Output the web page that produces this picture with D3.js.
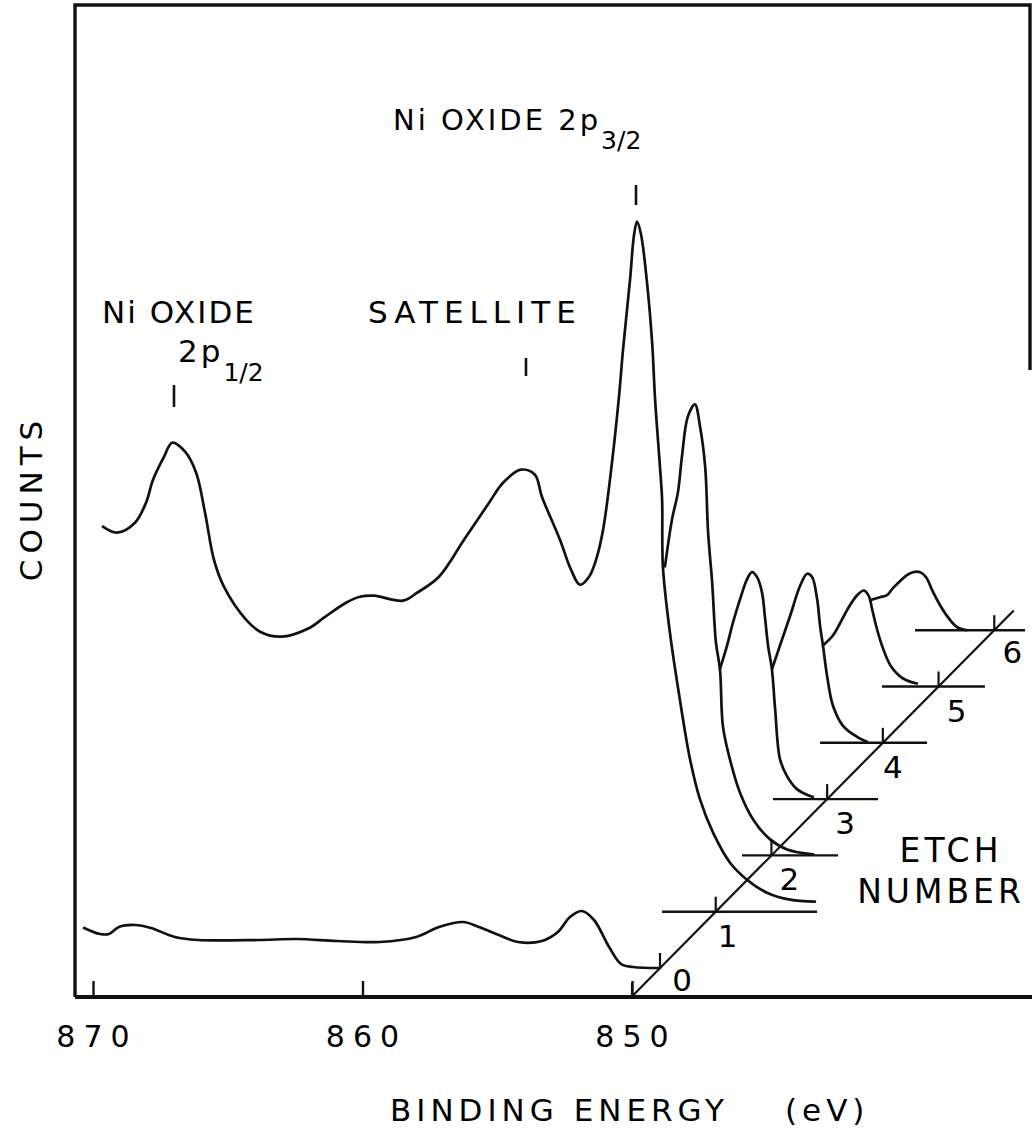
<!DOCTYPE html>
<html>
<head>
<meta charset="utf-8">
<script src="https://cdn.jsdelivr.net/npm/d3@7"></script>
<style>
  html, body { margin: 0; padding: 0; background: #fff; }
  svg { display: block; }
  text { font-family: "DejaVu Sans", "Liberation Sans", sans-serif; fill: #000; }
</style>
</head>
<body>
<svg id="chart" width="1032" height="1133"></svg>
<script>
// Ni 2p XPS spectra recorded after successive sputter-etch steps,
// stacked as a waterfall: each etch is shifted right (lower BE) and up.

const energyTicks = [870, 860, 850];
const etchNumbers = [0, 1, 2, 3, 4, 5, 6];

// [binding energy (eV), counts above the etch baseline]
const spectrumEtch0 = [
  [870.33, 40], [869.74, 34], [869.41, 34], [869.04, 41], [868.44, 43], [867.85, 40],
  [866.96, 31], [866.10, 28], [863.88, 28], [862.43, 29], [860.95, 27], [859.35, 26],
  [858.01, 31], [857.16, 41], [856.27, 46], [855.68, 41], [854.94, 33], [854.23, 26],
  [853.34, 27], [852.75, 36], [852.30, 51], [851.86, 57], [851.41, 48], [850.85, 21],
  [850.41, 4], [849.96, 1], [848.96, 0]
];
const spectrumEtch1 = [
  [871.70, 385], [871.18, 379], [870.51, 389], [870.10, 409], [869.84, 432], [869.43, 455],
  [869.13, 469], [868.65, 460], [868.24, 439], [867.91, 399], [867.58, 352], [867.21, 325],
  [866.39, 292], [865.87, 280], [865.09, 275], [864.02, 284], [863.50, 294], [862.68, 309],
  [862.16, 315], [861.64, 316], [860.56, 311], [860.04, 319], [859.23, 335], [858.30, 372],
  [857.37, 409], [856.85, 429], [856.19, 442], [855.67, 437], [855.41, 415], [854.74, 372],
  [854.33, 342], [854.00, 327], [853.66, 335], [853.40, 352], [853.14, 382], [852.81, 449],
  [852.55, 515], [852.40, 562], [852.14, 632], [851.99, 677], [851.88, 690], [851.73, 677],
  [851.51, 629], [851.32, 569], [851.21, 512], [851.03, 445], [850.95, 412], [850.92, 345],
  [850.66, 279], [850.29, 212], [849.91, 152], [849.54, 112], [849.06, 79], [848.43, 49],
  [847.80, 32], [847.06, 19], [846.20, 12], [845.28, 10]
];
const spectrumEtch2 = [
  [852.91, 289], [852.65, 336], [852.43, 363], [852.28, 399], [852.06, 439], [851.80, 451],
  [851.61, 429], [851.42, 389], [851.31, 323], [851.16, 273], [851.02, 213], [850.87, 186],
  [850.76, 129], [850.50, 96], [850.13, 63], [849.64, 36], [849.01, 16], [848.38, 6],
  [847.41, 1]
];
const spectrumEtch3 = [
  [852.94, 130], [852.68, 153], [852.45, 177], [852.19, 200], [851.93, 220], [851.75, 227],
  [851.56, 222], [851.38, 207], [851.26, 180], [851.15, 153], [851.01, 130], [850.89, 90],
  [850.71, 40], [850.45, 23], [850.08, 10], [849.49, 2]
];
const spectrumEtch4 = [
  [853.07, 74], [852.78, 97], [852.40, 127], [852.03, 157], [851.77, 169], [851.59, 166],
  [851.40, 144], [851.29, 117], [851.18, 97], [851.03, 67], [850.81, 37], [850.44, 17],
  [849.92, 6], [849.55, 1]
];
const spectrumEtch5 = [
  [853.25, 41], [852.88, 51], [852.62, 63], [852.32, 78], [851.99, 91], [851.73, 96],
  [851.54, 90], [851.43, 78], [851.28, 61], [851.06, 41], [850.72, 20], [850.28, 8],
  [849.76, 3]
];
const spectrumEtch6 = [
  [853.57, 30], [853.20, 33], [852.94, 35], [852.72, 42], [852.46, 49], [852.20, 55],
  [851.98, 58], [851.71, 58], [851.49, 53], [851.23, 38], [850.97, 25], [850.68, 13],
  [850.34, 3], [849.99, 0]
];
const spectra = [spectrumEtch0, spectrumEtch1, spectrumEtch2, spectrumEtch3,
                 spectrumEtch4, spectrumEtch5, spectrumEtch6];

// extent of the drawn baseline for each etch (eV, in that etch's own frame)
const baselineSpans = [null, [850.95, 845.2], [850.05, 846.49], [850.97, 847.07],
                       [851.29, 847.32], [851.06, 847.24], [851.90, 847.82]];
const etchMarkEV = 848.96;      // reference energy marked on every baseline
const etchShiftEV = 2.067;      // waterfall shift per etch step (eV)
const etchShiftCounts = 56.3;   // waterfall shift per etch step (counts)

const svg = d3.select("#chart");
const frame = { left: 75, right: 1030, top: 5, bottom: 997 };

const x = d3.scaleLinear().domain([870, 850]).range([93, 632]);
const y = d3.scaleLinear().domain([0, 968]).range([968, 0]);

// position of a point of etch k in chart space
const px = (e, k) => x(e - k * etchShiftEV);
const py = (c, k) => y(c + k * etchShiftCounts);

const ink = "#111";

// frame
svg.append("path")
  .attr("d", `M${frame.left},${frame.bottom} L${frame.left},${frame.top} L${frame.right},${frame.top} L${frame.right},370`)
  .attr("fill", "none").attr("stroke", ink).attr("stroke-width", 3.4);

// energy axis with inward ticks
const xAxis = d3.axisTop(x).tickValues(energyTicks).tickSize(16).tickFormat("");
const axisG = svg.append("g").attr("transform", `translate(0,${frame.bottom})`).call(xAxis);
axisG.select(".domain").remove();
axisG.selectAll(".tick line").attr("stroke", ink).attr("stroke-width", 2.4);
svg.append("line")
  .attr("x1", frame.left).attr("x2", 1032)
  .attr("y1", frame.bottom).attr("y2", frame.bottom)
  .attr("stroke", ink).attr("stroke-width", 3.8);

svg.selectAll("text.tick-label").data(energyTicks).enter().append("text")
  .attr("class", "tick-label")
  .attr("x", d => x(d) + 4)
  .attr("y", 1047)
  .attr("text-anchor", "middle")
  .attr("font-size", 30)
  .attr("letter-spacing", 8)
  .text(d => d);

const xTitle = svg.append("text")
  .attr("x", 390).attr("y", 1121)
  .attr("font-size", 31)
  .attr("letter-spacing", 5);
xTitle.append("tspan").text("BINDING ENERGY");
xTitle.append("tspan").attr("x", 785).text("(eV)");

svg.append("text")
  .attr("transform", "translate(42,498) rotate(-90)")
  .attr("text-anchor", "middle")
  .attr("font-size", 31)
  .attr("letter-spacing", 6)
  .text("COUNTS");

// spectra
const line = d3.line()
  .x(d => d[0]).y(d => d[1])
  .curve(d3.curveCatmullRom.alpha(0.5));

spectra.forEach((s, k) => {
  svg.append("path")
    .attr("d", line(s.map(p => [px(p[0], k), py(p[1], k)])))
    .attr("fill", "none").attr("stroke", ink)
    .attr("stroke-width", 2.7).attr("stroke-linejoin", "round").attr("stroke-linecap", "round");
});

// baselines, etch marks and etch numbers
const etchLabelNudge = [[22, 23], [12, 35], [18, 35], [18, 35], [10, 35], [18, 35], [18, 33]];
etchNumbers.forEach(k => {
  const span = baselineSpans[k];
  if (span) {
    svg.append("line")
      .attr("x1", px(span[0], k)).attr("x2", px(span[1], k))
      .attr("y1", py(0, k)).attr("y2", py(0, k))
      .attr("stroke", ink).attr("stroke-width", 2.4);
  }
  svg.append("line")
    .attr("x1", px(etchMarkEV, k)).attr("x2", px(etchMarkEV, k))
    .attr("y1", py(0, k)).attr("y2", py(0, k) - 15)
    .attr("stroke", ink).attr("stroke-width", 2.2);
  svg.append("text")
    .attr("x", px(etchMarkEV, k) + etchLabelNudge[k][0])
    .attr("y", py(0, k) + etchLabelNudge[k][1])
    .attr("text-anchor", "middle")
    .attr("font-size", 31)
    .text(k);
});

// diagonal guide through the etch marks
svg.append("line")
  .attr("x1", px(etchMarkEV, -0.5)).attr("y1", py(0, -0.5))
  .attr("x2", px(etchMarkEV, 6.35)).attr("y2", py(0, 6.35))
  .attr("stroke", ink).attr("stroke-width", 2.2);
// small tick where the guide meets the axis
svg.append("line")
  .attr("x1", x(850)).attr("x2", x(850))
  .attr("y1", frame.bottom).attr("y2", frame.bottom - 14)
  .attr("stroke", ink).attr("stroke-width", 2.2);

svg.append("text").attr("x", 951).attr("y", 862)
  .attr("text-anchor", "middle").attr("font-size", 33).attr("letter-spacing", 4).text("ETCH");
svg.append("text").attr("x", 941).attr("y", 903)
  .attr("text-anchor", "middle").attr("font-size", 33).attr("letter-spacing", 4).text("NUMBER");

// peak annotations
function subLabel(xp, yp, main, sub, size, subSize) {
  const t = svg.append("text").attr("x", xp).attr("y", yp)
    .attr("font-size", size).attr("letter-spacing", 3);
  t.append("tspan").text(main);
  t.append("tspan").attr("dy", 19).attr("font-size", subSize).attr("letter-spacing", 0).text(sub);
}
svg.append("text").attr("x", 102).attr("y", 323).attr("font-size", 31).attr("letter-spacing", 2)
  .text("Ni OXIDE");
subLabel(178, 362, "2p", "1/2", 31, 25);
svg.append("text").attr("x", 368).attr("y", 323).attr("font-size", 31).attr("letter-spacing", 6)
  .text("SATELLITE");
subLabel(393, 130, "Ni OXIDE 2p", "3/2", 29, 25);

// short marker strokes above the labelled peaks
const peakMarks = [[174, 385, 407], [526, 358, 376], [636, 185, 205]];
peakMarks.forEach(m => {
  svg.append("line").attr("x1", m[0]).attr("x2", m[0]).attr("y1", m[1]).attr("y2", m[2])
    .attr("stroke", ink).attr("stroke-width", 2.6);
});
</script>
</body>
</html>
